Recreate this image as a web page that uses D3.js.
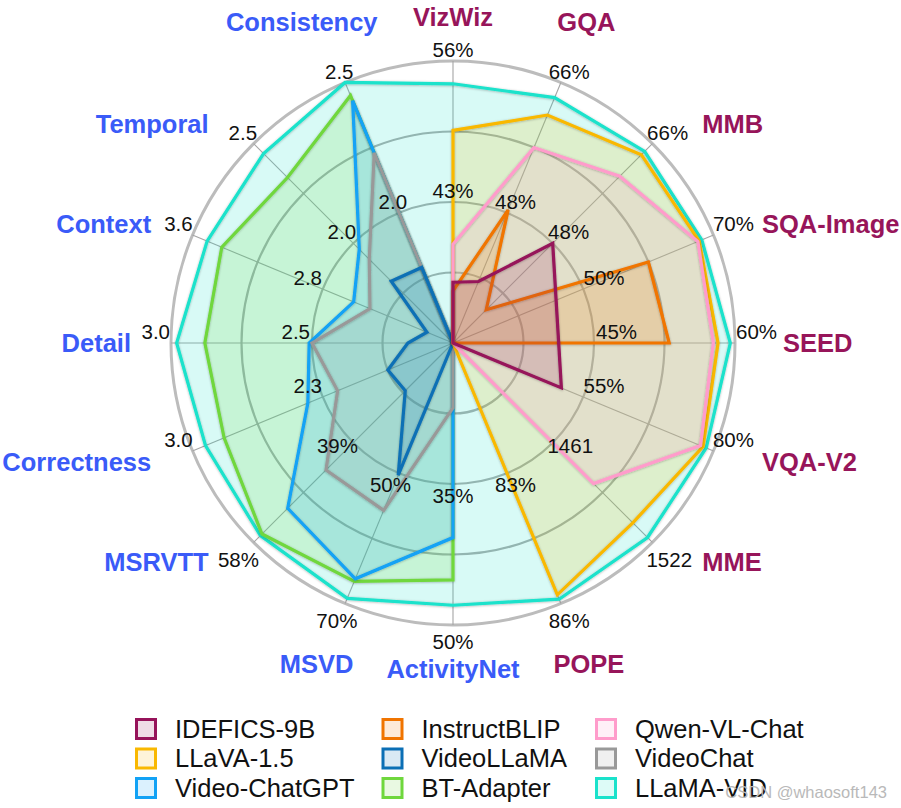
<!DOCTYPE html>
<html>
<head>
<meta charset="utf-8">
<script src="https://cdn.jsdelivr.net/npm/d3@7"></script>
<style>
  body { margin: 0; background: #fff; }
  svg text { font-family: "Liberation Sans", Arial, Helvetica, sans-serif; }
</style>
</head>
<body>
<div id="radar"></div>
<script>
// axes, clockwise starting at 12 o'clock
const axes = ["VizWiz", "GQA", "MMB", "SQA-Image", "SEED", "VQA-V2", "MME", "POPE",
  "ActivityNet", "MSVD", "MSRVTT", "Correctness", "Detail", "Context", "Temporal", "Consistency"];
const axisKind = ["image", "image", "image", "image", "image", "image", "image", "image",
  "video", "video", "video", "video", "video", "video", "video", "video"];

// tick values: inner one sits on the middle ring, outer one on the outer ring
const innerTicks = [43, 48, 48, 50, 45, 55, 1461, 83, 35, 50, 39, 2.3, 2.5, 2.8, 2.0, 2.0];
const outerTicks = [56, 66, 66, 70, 60, 80, 1522, 86, 50, 70, 58, 3.0, 3.0, 3.6, 2.5, 2.5];
const innerLabels = ["43%", "48%", "48%", "50%", "45%", "55%", "1461", "83%",
  "35%", "50%", "39%", "2.3", "2.5", "2.8", "2.0", "2.0"];
const outerLabels = ["56%", "66%", "66%", "70%", "60%", "80%", "1522", "86%",
  "50%", "70%", "58%", "3.0", "3.0", "3.6", "2.5", "2.5"];

// models in legend order
const models = ["IDEFICS-9B", "InstructBLIP", "Qwen-VL-Chat", "LLaVA-1.5", "VideoLLaMA",
  "VideoChat", "Video-ChatGPT", "BT-Adapter", "LLaMA-VID"];
const colors = ["#96135a", "#f07400", "#ff9ccb", "#f9b800", "#0b6fb5",
  "#999999", "#12a2f5", "#6fd73d", "#1ae2cb"];

// scores per axis. null = not reported (vertex skipped), 0 = not evaluated (vertex at centre)
const idefics = [35.6, 38.5, 48.0, null, null, 50.8, null, null, 0, 0, 0, 0, 0, 0, 0, 0];
const instructBlip = [34.8, 48.4, 36.0, 60.0, 53.0, null, null, null, 0, 0, 0, 0, 0, 0, 0, 0];
const qwenVl = [39.1, 57.0, 60.1, 67.6, 57.7, 77.5, 1486, null, 0, 0, 0, 0, 0, 0, 0, 0];
const llava = [49.6, 61.5, 64.0, 67.8, 58.2, 78.0, 1510, 85.8, 0, 0, 0, 0, 0, 0, 0, 0];
const videoLlama = [0, 0, 0, 0, 0, 0, 0, 0, 20.0, 50.3, 29.1, 1.95, 2.16, 2.16, 1.81, 1.79];
const videoChat = [0, 0, 0, 0, 0, 0, 0, 0, 26.9, 55.7, 44.2, 2.22, 2.50, 2.51, 1.92, 2.23];
const videoChatGpt = [0, 0, 0, 0, 0, 0, 0, 0, 40.7, 66.2, 51.5, 2.38, 2.51, 2.61, 1.97, 2.43];
const btAdapter = [0, 0, 0, 0, 0, 0, 0, 0, 45.2, 66.6, 56.4, 2.83, 2.88, 3.42, 2.33, 2.45];
const llamaVid = [53.9, 63.9, 64.6, 68.2, 59.5, 78.6, 1519, 85.9, 47.9, 69.2, 56.7, 2.93, 2.98, 3.51, 2.45, 2.50];
const scores = [idefics, instructBlip, qwenVl, llava, videoLlama, videoChat, videoChatGpt, btAdapter, llamaVid];

// layout
const width = 901, height = 808;
const cx = 453, cy = 343, R = 282;
const clamp01 = (t) => Math.max(0, Math.min(1, t));
const angle = (i) => (i * 2 * Math.PI) / axes.length;

const svg = d3
  .select("#radar")
  .append("svg")
  .attr("width", width)
  .attr("height", height);

svg.append("rect").attr("width", width).attr("height", height).attr("fill", "#fff");

// soft shadow under the outlines
svg
  .append("defs")
  .append("filter")
  .attr("id", "shadow")
  .attr("x", "-20%")
  .attr("y", "-20%")
  .attr("width", "140%")
  .attr("height", "140%")
  .append("feDropShadow")
  .attr("dx", 0)
  .attr("dy", 0.5)
  .attr("stdDeviation", 1.3)
  .attr("flood-color", "#000")
  .attr("flood-opacity", 0.3);

const g = svg.append("g").attr("transform", `translate(${cx},${cy})`);

// one radial scale per axis
const rScales = axes.map((d, i) =>
  d3.scaleLinear().domain([innerTicks[i], outerTicks[i]]).range([R / 2, R])
);

// grid rings
g.selectAll(".ring")
  .data([0.25, 0.5, 0.75])
  .join("circle")
  .attr("class", "ring")
  .attr("r", (d) => d * R)
  .attr("fill", "none")
  .attr("stroke", "#acacac")
  .attr("stroke-width", 2.2);
g.append("circle")
  .attr("r", R)
  .attr("fill", "none")
  .attr("stroke", "#bcbcbc")
  .attr("stroke-width", 3);

// spokes
g.selectAll(".spoke")
  .data(axes)
  .join("line")
  .attr("class", "spoke")
  .attr("x1", 0)
  .attr("y1", 0)
  .attr("x2", (d, i) => R * Math.sin(angle(i)))
  .attr("y2", (d, i) => -R * Math.cos(angle(i)))
  .attr("stroke", "#a5a5a5")
  .attr("stroke-width", 1.1);

// polygons
const radarLine = d3
  .lineRadial()
  .angle((d) => d.angle)
  .radius((d) => d.r)
  .curve(d3.curveLinearClosed);

const series = models.map((name, k) => ({
  name: name,
  color: colors[k],
  points: scores[k]
    .map((v, i) =>
      v === null ? null : { angle: angle(i), r: Math.max(0, rScales[i](v)) }
    )
    .filter((p) => p !== null),
}));

// drawn last-legend-entry first, so LLaMA-VID ends up underneath
const drawOrder = series.slice().reverse();
drawOrder.forEach((s) => {
  g.append("path")
    .attr("d", radarLine(s.points))
    .attr("fill", s.color)
    .attr("fill-opacity", 0.17)
    .attr("stroke", "none");
  g.append("path")
    .attr("d", radarLine(s.points))
    .attr("fill", "none")
    .attr("stroke", s.color)
    .attr("stroke-width", 3.2)
    .attr("stroke-linejoin", "miter")
    .attr("filter", "url(#shadow)");
});

// inner tick labels (middle ring)
g.selectAll(".inner-tick")
  .data(axes)
  .join("text")
  .attr("class", "inner-tick")
  .attr("text-anchor", "middle")
  .attr("dy", "0.35em")
  .attr("font-size", "20.5px")
  .attr("fill", "#111")
  .text((d, i) => innerLabels[i])
  .each(function (d, i) {
    const w = this.getComputedTextLength();
    const s = Math.sin(angle(i)), c = Math.cos(angle(i));
    const shiftY = -11 + 23 * clamp01((-c - 0.4) / 0.5);
    d3.select(this)
      .attr("x", (R / 2) * s + s * (w / 2 + 2))
      .attr("y", (-R / 2) * c + shiftY);
  });

// outer tick labels
g.selectAll(".outer-tick")
  .data(axes)
  .join("text")
  .attr("class", "outer-tick")
  .attr("text-anchor", "middle")
  .attr("dy", "0.35em")
  .attr("font-size", "20.5px")
  .attr("fill", "#111")
  .text((d, i) => outerLabels[i])
  .each(function (d, i) {
    const w = this.getComputedTextLength();
    const s = Math.sin(angle(i)), c = Math.cos(angle(i));
    const shiftY = -11 + 28 * clamp01((-c - 0.4) / 0.3);
    d3.select(this)
      .attr("x", R * s + s * (w / 2 + 1))
      .attr("y", -R * c + shiftY);
  });

// benchmark names
g.selectAll(".axis-name")
  .data(axes)
  .join("text")
  .attr("class", "axis-name")
  .attr("dy", "0.35em")
  .attr("font-size", "25.5px")
  .attr("font-weight", "bold")
  .attr("fill", (d, i) => (axisKind[i] === "image" ? "#97155a" : "#3a5bf8"))
  .text((d) => d)
  .each(function (d, i) {
    const s = Math.sin(angle(i)), c = Math.cos(angle(i));
    const sel = d3.select(this);
    if (Math.abs(s) >= 0.5) {
      // side labels hang off the ring to the left / right
      const off = s > 0 ? 54 + 276 * s : -(57 + 265 * -s);
      sel
        .attr("text-anchor", s > 0 ? "start" : "end")
        .attr("x", off)
        .attr("y", -310 * c);
    } else {
      const w = this.getComputedTextLength();
      const rr = 326 + 55 * Math.abs(s);
      sel
        .attr("text-anchor", "middle")
        .attr("x", (rr - 27.5) * s + (s * w) / 2)
        .attr("y", -rr * c);
    }
  });

// legend, 3 columns filled row by row
const legendCols = [146, 392.5, 606];
const legendRows = [729, 758.5, 788];
const legend = svg
  .selectAll(".legend-item")
  .data(series)
  .join("g")
  .attr("class", "legend-item")
  .attr(
    "transform",
    (d, k) => `translate(${legendCols[k % 3]},${legendRows[Math.floor(k / 3)]})`
  );
legend
  .append("rect")
  .attr("x", -9.5)
  .attr("y", -9.5)
  .attr("width", 19)
  .attr("height", 19)
  .attr("fill", (d) => d3.interpolateRgb("#fff", d.color)(0.15))
  .attr("stroke", (d) => d.color)
  .attr("stroke-width", 3);
legend
  .append("text")
  .attr("x", 29)
  .attr("dy", "0.35em")
  .attr("font-size", "25.5px")
  .attr("fill", "#111")
  .text((d) => d.name);

// watermark
svg
  .append("text")
  .attr("x", 887)
  .attr("y", 792)
  .attr("dy", "0.35em")
  .attr("text-anchor", "end")
  .attr("font-size", "16.5px")
  .attr("fill", "#b9b9b9")
  .text("CSDN @whaosoft143");
</script>
</body>
</html>
